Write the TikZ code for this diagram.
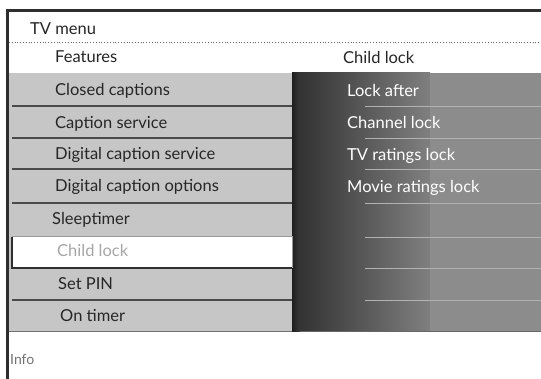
\documentclass[tikz,border=0pt]{standalone}
\usepackage{fontspec}
\setmainfont{Lato}
\definecolor{listbg}{HTML}{C6C6C6}
\definecolor{frame}{HTML}{2E2E2E}
\definecolor{sepline}{HTML}{4A4A4A}
\tikzset{
  menutext/.style={anchor=base west, inner sep=0pt, font=\fontsize{16.5}{19}\selectfont, text=black!85},
  subtext/.style={menutext, text=white},
}
\begin{document}
\begin{tikzpicture}[x=1pt,y=-1pt]
\useasboundingbox (0,0) rectangle (541,379);
\fill[white] (0,0) rectangle (541,379);
% left list background
\fill[listbg] (9,73) rectangle (292,332);
% right panel gradient
\shade[left color=black!80, right color=black!50] (300,73) rectangle (430,332);
\fill[black!45] (429.5,73) rectangle (541,332);
% dark strip between
\shade[left color=black!88, right color=black!78] (292,73) rectangle (300,332);
% row separators left
\foreach \y in {106,138,169,203,300} {
  \draw[sepline, line width=1.2pt] (12,\y) -- (292,\y);
}
% right panel faint separators
\foreach \y in {106,138,169,203,237,268,300} {
  \draw[white!70!black, line width=0.6pt] (365,\y) -- (541,\y);
}
\draw[black!60, line width=1pt] (300,332) -- (541,332);
\draw[black!55, line width=1pt] (9,332) -- (292,332);
% highlighted row
\fill[white] (12,237) rectangle (292,268);
\draw[black!40, line width=1pt] (12,237) -- (292,237) -- (292,268);
\draw[frame, line width=1.5pt] (12,237) -- (12,268) -- (292,268);
% frame
\fill[frame] (6,9) rectangle (541,12);
\fill[frame] (6,9) rectangle (9,379);
\draw[black!60, dotted, line width=0.8pt] (9,42.5) -- (541,42.5);
% header texts
\node[menutext] (tv) at (30,35) {TV menu};
\node[menutext] (features) at (55,63) {Features};
\node[menutext] (clhead) at (343,64) {Child lock};
% left list
\node[menutext] (l1) at (55,96) {Closed captions};
\node[menutext] (l2) at (55,129) {Caption service};
\node[menutext] (l3) at (55,160) {Digital caption service};
\node[menutext] (l4) at (55,192) {Digital caption options};
\node[menutext] (l5) at (52,225) {Sleeptimer};
\node[menutext, text=black!35] (l6) at (57,257) {Child lock};
\node[menutext] (l7) at (58,290) {Set PIN};
\node[menutext] (l8) at (60,322) {On timer};
% right list
\node[subtext] (r1) at (347,97) {Lock after};
\node[subtext] (r2) at (347,129) {Channel lock};
\node[subtext] (r3) at (347,161) {TV ratings lock};
\node[subtext] (r4) at (347,193) {Movie ratings lock};
% info
\node[anchor=base west, inner sep=0pt, font=\fontsize{14}{16}\selectfont, text=black!55] (info) at (10,365) {Info};
\end{tikzpicture}
\end{document}
